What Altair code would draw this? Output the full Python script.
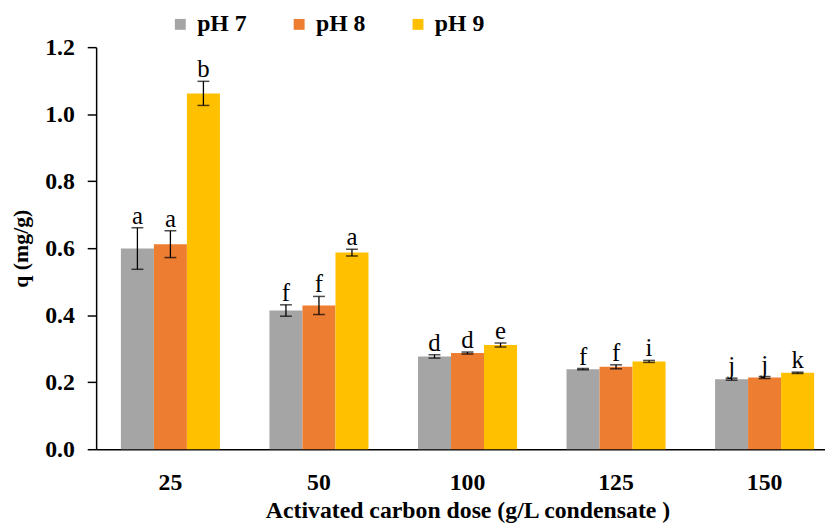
import altair as alt
import pandas as pd

doses = ["25", "50", "100", "125", "150"]
phs = ["pH 7", "pH 8", "pH 9"]
colors = ["#A5A5A5", "#ED7D31", "#FFC000"]

q_ph7 = [0.599, 0.414, 0.277, 0.239, 0.209]
q_ph8 = [0.612, 0.429, 0.287, 0.246, 0.214]
q_ph9 = [1.062, 0.587, 0.311, 0.262, 0.228]

err_ph7 = [0.062, 0.017, 0.005, 0.002, 0.003]
err_ph8 = [0.040, 0.027, 0.003, 0.006, 0.003]
err_ph9 = [0.036, 0.010, 0.006, 0.003, 0.002]

let_ph7 = ["a", "f", "d", "f", "j"]
let_ph8 = ["a", "f", "d", "f", "j"]
let_ph9 = ["b", "a", "e", "i", "k"]

rows = []
for ph, qs, es, ls in zip(phs, [q_ph7, q_ph8, q_ph9], [err_ph7, err_ph8, err_ph9],
                          [let_ph7, let_ph8, let_ph9]):
    for d, q, e, l in zip(doses, qs, es, ls):
        rows.append({"dose": d, "pH": ph, "q": q, "lo": q - e, "hi": q + e, "letter": l})
df = pd.DataFrame(rows)

FONT = "Liberation Serif, Times New Roman, serif"

x_enc = alt.X(
    "dose:N", sort=doses,
    scale=alt.Scale(range=[0, 750], paddingInner=1 / 3, paddingOuter=1 / 6),
    axis=alt.Axis(
        title="Activated carbon dose (g/L condensate )",
        labelFont=FONT, labelFontSize=24, labelFontWeight="bold", labelColor="black",
        labelAngle=0, labelPadding=22, ticks=False, domainColor="black", domainWidth=1.5,
        titleFont=FONT, titleFontSize=24, titleFontWeight="bold", titleColor="black",
        titlePadding=4,
    ),
)
xo = alt.XOffset("pH:N", sort=phs)

y_scale = alt.Scale(domain=[0, 1.2], nice=False)

bars = alt.Chart(df).mark_bar().encode(
    x=x_enc,
    xOffset=xo,
    y=alt.Y(
        "q:Q", scale=y_scale,
        axis=alt.Axis(
            title="q (mg/g)", values=[0, 0.2, 0.4, 0.6, 0.8, 1.0, 1.2], format=".1f",
            grid=False, domainColor="black", domainWidth=1.5, tickColor="black",
            tickSize=9, tickWidth=1.5, labelPadding=13,
            labelFont=FONT, labelFontSize=24, labelFontWeight="bold", labelColor="black",
            titleFont=FONT, titleFontSize=22, titleFontWeight="bold", titleColor="black",
            titlePadding=12,
        ),
    ),
    color=alt.Color(
        "pH:N", sort=phs, scale=alt.Scale(domain=phs, range=colors),
        legend=alt.Legend(
            title=None, orient="none", direction="horizontal", legendX=73, legendY=-35,
            symbolType="square", symbolSize=121, symbolStrokeWidth=0,
            labelFont=FONT, labelFontSize=24, labelFontWeight="bold", labelColor="black",
            labelOffset=5, columnPadding=40,
        ),
    ),
)

err_rule = alt.Chart(df).mark_rule(color="black", strokeWidth=1.3).encode(
    x=alt.X("dose:N", sort=doses), xOffset=xo, y="lo:Q", y2="hi:Q"
)
cap_hi = alt.Chart(df).mark_tick(color="black", size=12, thickness=1.5).encode(
    x=alt.X("dose:N", sort=doses), xOffset=xo, y="hi:Q"
)
cap_lo = alt.Chart(df).mark_tick(color="black", size=12, thickness=1.5).encode(
    x=alt.X("dose:N", sort=doses), xOffset=xo, y="lo:Q"
)
labels = alt.Chart(df).mark_text(
    font=FONT, fontSize=25, color="black", baseline="alphabetic", dy=-4
).encode(
    x=alt.X("dose:N", sort=doses), xOffset=xo, y="hi:Q", text="letter:N"
)

chart = alt.layer(bars, err_rule, cap_hi, cap_lo, labels).properties(
    width=736, height=406,
    autosize=alt.AutoSizeParams(type="none"),
    padding={"left": 89, "top": 37, "right": 0, "bottom": 75},
).configure_view(stroke=None).configure_scale(offsetBandPaddingInner=0)

chart.save("out.html", embed_options={"renderer": "svg", "actions": False})
